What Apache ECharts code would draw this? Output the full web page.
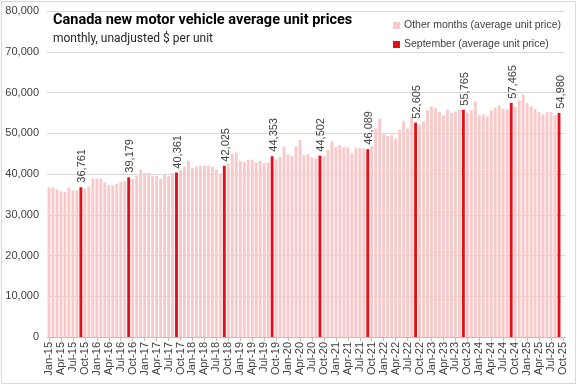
<!DOCTYPE html>
<html>
<head>
<meta charset="utf-8">
<script src="https://cdn.jsdelivr.net/npm/echarts@6/dist/echarts.min.js"></script>
<style>
html,body{margin:0;padding:0;background:#fff;}
#c{position:absolute;left:1px;top:1px;width:573px;height:381px;border:1px solid #d9d9d9;}
.vlab{position:absolute;white-space:nowrap;font:11px "Liberation Sans",Arial,sans-serif;line-height:12px;
      color:#404040;writing-mode:sideways-lr;pointer-events:none;z-index:5;}
</style>
</head>
<body>
<div id="c"></div>
<script>
const monthNames = ['Jan','Feb','Mar','Apr','May','Jun','Jul','Aug','Sep','Oct','Nov','Dec'];
const years = ['15','16','17','18','19','20','21','22','23','24','25'];
const lastCategory = 'Oct-25';
// average unit price, Jan-15 .. Sep-25
const prices = [
  36670,36670,36180,35770,35610,36670,35930,35930,36761,36420,36910,38860,
  38860,38860,37890,37240,37240,37560,38050,38300,39179,38780,39590,41060,
  40240,40240,39590,39590,38780,40080,39430,40240,40361,41060,41790,43250,
  41460,41790,42030,42030,42030,41790,41060,40080,42025,42600,44960,45280,
  43250,43010,43500,43500,42850,43250,42680,42930,44353,43580,44230,46750,
  44800,44470,46750,48370,44630,44880,44070,43820,44502,44390,45850,48050,
  46670,47070,46500,46500,45120,46340,46340,46340,46089,46830,51140,53580,
  49920,49350,49510,48700,50890,52930,51140,53980,52605,52110,52930,55610,
  56590,56180,55200,54390,55770,54960,55370,55770,55765,55040,55610,57800,
  54390,54630,54150,55610,56340,56830,56020,55850,57465,56420,58050,59510,
  57400,56590,56020,55200,54630,55200,55200,54390,54980
];
const categories = [];
years.forEach(y => monthNames.forEach(m => categories.push(m + '-' + y)));
categories.length = categories.indexOf(lastCategory) + 1;

const isSep = c => c.startsWith('Sep');
const otherData = categories.map((c,i) => (i < prices.length && !isSep(c)) ? prices[i] : null);
const sepData = categories.map((c,i) => (i < prices.length && isSep(c)) ? prices[i] : null);
const fmt = v => Number(v).toLocaleString('en-US');

const el = document.getElementById('c');
const chart = echarts.init(el);
chart.setOption({
  animation: false,
  textStyle: {fontFamily: 'Liberation Sans'},
  title: {
    text: 'Canada new motor vehicle average unit prices',
    subtext: 'monthly, unadjusted $ per unit',
    left: 46, top: 6, itemGap: 5,
    textStyle: {fontFamily: 'Roboto', fontSize: 14.5, fontWeight: 'bold', color: '#000'},
    subtextStyle: {fontFamily: 'Roboto', fontSize: 12, color: '#262626'}
  },
  legend: {
    orient: 'vertical', right: 9, top: 13, itemWidth: 7, itemHeight: 7, itemGap: 8,
    icon: 'rect',
    textStyle: {fontSize: 10.5, color: '#404040', padding: [0,0,0,-1]},
    data: ['Other months (average unit price)', 'September (average unit price)']
  },
  grid: {left: 45, right: 10, top: 9, bottom: 46, containLabel: false},
  xAxis: {
    type: 'category', data: categories,
    axisLine: {lineStyle: {color: '#bfbfbf'}},
    axisTick: {show: true, interval: 2, alignWithLabel: true, length: 4, lineStyle: {color: '#bfbfbf'}},
    axisLabel: {interval: 2, rotate: 90, fontSize: 11, color: '#404040', margin: 5}
  },
  yAxis: {
    type: 'value', min: 0, max: 80000, interval: 10000,
    axisLabel: {formatter: fmt, fontSize: 11, color: '#404040', margin: 8},
    splitLine: {lineStyle: {color: '#d9d9d9'}},
    axisLine: {show: false}, axisTick: {show: false}
  },
  series: [
    {
      name: 'Other months (average unit price)', type: 'bar', data: otherData,
      barWidth: '72%', barGap: '-100%',
      itemStyle: {color: '#f9c9c9'}
    },
    {
      name: 'September (average unit price)', type: 'bar', data: sepData,
      barWidth: '72%', barGap: '-100%',
      itemStyle: {color: '#e60f19'}
    }
  ]
});

// vertical value labels above the September bars, positioned through the chart's scales
sepData.forEach((v, i) => {
  if (v == null) return;
  const p = chart.convertToPixel({gridIndex: 0}, [categories[i], v]);
  const d = document.createElement('div');
  d.className = 'vlab';
  d.textContent = fmt(v);
  el.appendChild(d);
  const w = d.offsetWidth, h = d.offsetHeight;
  d.style.left = (p[0] + 0.5 - w / 2) + 'px';
  d.style.top = (p[1] - 4 - h) + 'px';
});
</script>
</body>
</html>
